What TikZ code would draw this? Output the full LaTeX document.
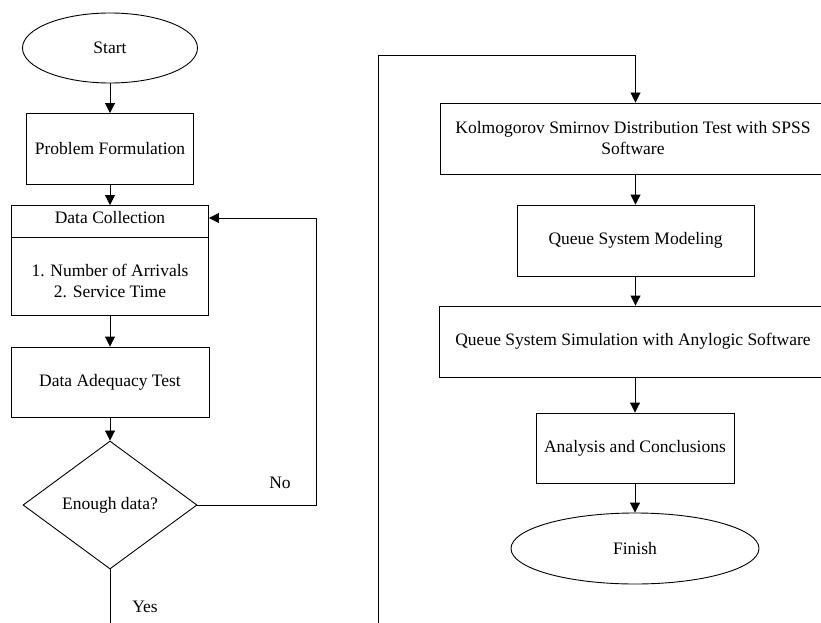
\documentclass[tikz,border=0pt]{standalone}
\usepackage{fontspec}
\setmainfont{Liberation Serif}
\usetikzlibrary{shapes.geometric,arrows.meta}

\begin{document}
\begin{tikzpicture}[x=1pt,y=-1pt,line width=0.9pt,
  font=\fontsize{17.5}{21}\selectfont,
  box/.style={draw,rectangle,inner sep=0pt},
  term/.style={draw,ellipse,inner sep=0pt},
  decision/.style={draw,diamond,inner sep=0pt},
  arrow/.style={-{Triangle[length=10pt,width=10pt]}}]
\useasboundingbox (0,0) rectangle (821,623);
% left column
\node[term,minimum width=175pt,minimum height=70pt] (start) at (110,48) {Start};
\node[box,minimum width=167pt,minimum height=71pt] (formul) at (110,149) {Problem Formulation};
\node[box,minimum width=197pt,minimum height=110pt] (collect) at (110,260.5) {};
\node (collecthead) at (110,218) {Data Collection};
\draw (collect.west |- 0,237) -- (collect.east |- 0,237);
\node[align=center] (collectitems) at (110,281) {1. Number of Arrivals\\2. Service Time};
\node[box,minimum width=198pt,minimum height=70pt] (adequacy) at (110,382) {Data Adequacy Test};
\node[decision,minimum width=174pt,minimum height=128pt] (enough) at (110,505) {Enough data?};
\node (nolabel) at (280,483) {No};
\node (yeslabel) at (145,607) {Yes};
\coordinate (noturn) at (316,505);
\coordinate (yesend) at (110,623);
% right column
\node[box,align=center,minimum width=386pt,minimum height=71pt] (kstest) at (633,138.5)
  {Kolmogorov Smirnov Distribution Test with SPSS\\Software};
\node[box,minimum width=237pt,minimum height=71pt] (model) at (635.5,240.5) {Queue System Modeling};
\node[box,minimum width=388pt,minimum height=71pt] (simul) at (633,341.5)
  {Queue System Simulation with Anylogic Software};
\node[box,minimum width=198pt,minimum height=70pt] (analysis) at (635,448) {Analysis and Conclusions};
\node[term,minimum width=248pt,minimum height=71pt] (finish) at (635,548.5) {Finish};
\coordinate (jumpin) at (378,623);
\coordinate (jumptop) at (378,55);
% connectors
\draw[arrow] (start) -- (formul);
\draw[arrow] (formul) -- (collect);
\draw[arrow] (collect) -- (adequacy);
\draw[arrow] (adequacy) -- (enough);
\draw[arrow] (enough.east) -- (noturn) |- (collect.east |- collecthead);
\draw (enough.south) -- (yesend);
\draw[arrow] (jumpin) -- (jumptop) -| (kstest.north -| model.north);
\draw[arrow] (kstest.south -| model.south) -- (model.north);
\draw[arrow] (model.south) -- (simul.north -| model.south);
\draw[arrow] (simul.south -| analysis.north) -- (analysis.north);
\draw[arrow] (analysis) -- (finish);
\end{tikzpicture}
\end{document}
